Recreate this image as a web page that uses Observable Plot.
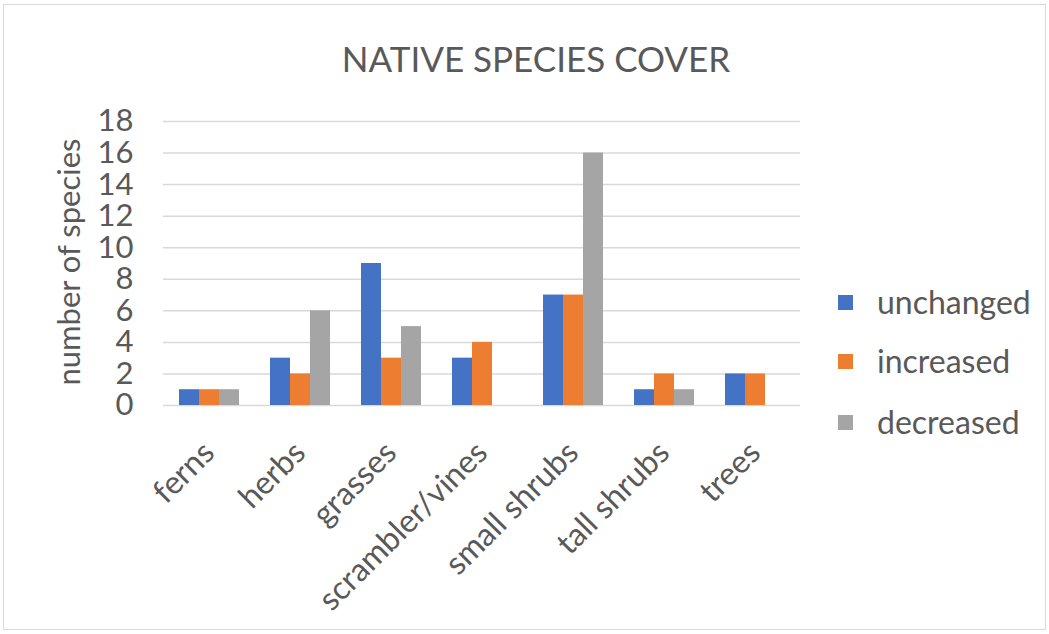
<!DOCTYPE html>
<html>
<head>
<meta charset="utf-8">
<script src="https://cdn.jsdelivr.net/npm/d3@7"></script>
<script src="https://cdn.jsdelivr.net/npm/@observablehq/plot@0.6"></script>
<style>
  html, body { margin: 0; padding: 0; background: #fff; }
  #wrap { position: relative; width: 1049px; height: 634px; font-family: Lato, "Open Sans", sans-serif; color: #595959; overflow: hidden; }
  #frame { position: absolute; left: 3px; top: 4px; width: 1041px; height: 624px; border: 1px solid #d9d9d9; }
  #title { position: absolute; left: 0; width: 1072px; top: 36px; text-align: center; font-size: 35px; line-height: 44px; }
  #chart { position: absolute; left: 0; top: 100px; }
  #ylabel { position: absolute; left: 68px; top: 262px; transform: translate(-50%, -50%) rotate(180deg); writing-mode: vertical-rl; font-size: 31px; line-height: 32px; white-space: nowrap; }
  .leg { position: absolute; left: 838px; font-size: 32px; line-height: 40px; display: flex; align-items: center; }
  .leg span.sw { display: inline-block; width: 15px; height: 15px; margin-right: 24px; }
</style>
</head>
<body>
<div id="wrap">
  <div id="frame"></div>
  <div id="title">NATIVE SPECIES COVER</div>
  <div id="chart"></div>
  <div id="ylabel">number of species</div>
  <div id="legend"></div>
</div>
<script>
const categories = ["ferns", "herbs", "grasses", "scrambler/vines", "small shrubs", "tall shrubs", "trees"];
const seriesNames = ["unchanged", "increased", "decreased"];
const unchanged = [1, 3, 9, 3, 7, 1, 2];
const increased = [1, 2, 3, 4, 7, 2, 2];
const decreased = [1, 6, 5, 0, 16, 1, 0];
const yTicks = [0, 2, 4, 6, 8, 10, 12, 14, 16, 18];
const colors = ["#4472C4", "#ED7D31", "#A5A5A5"];

const seriesValues = [unchanged, increased, decreased];
const rows = [];
categories.forEach((c, i) => {
  seriesNames.forEach((s, j) => rows.push({category: c, series: s, value: seriesValues[j][i]}));
});

const chart = Plot.plot({
  width: 1049,
  height: 534,
  marginLeft: 163,
  marginRight: 249,
  marginTop: 21,
  marginBottom: 229,
  style: {fontFamily: "Lato, 'Open Sans', sans-serif", color: "#595959", background: "transparent", overflow: "visible"},
  fx: {domain: categories, padding: 0, label: null},
  x: {domain: seriesNames, paddingInner: 0, paddingOuter: 0.775, axis: null},
  y: {domain: [0, 18], label: null},
  color: {domain: seriesNames, range: colors},
  marks: [
    Plot.ruleY(yTicks, {stroke: "#d9d9d9", strokeWidth: 1.5}),
    Plot.barY(rows, {fx: "category", x: "series", y: "value", fill: "series"}),
    Plot.axisY({ticks: yTicks, tickSize: 0, tickPadding: 30, fontSize: 31, label: null, fill: "#595959"}),
    Plot.axisFx({anchor: "bottom", tickRotate: -45, tickSize: 0, tickPadding: 42, fontSize: 32, label: null, fill: "#595959"})
  ]
});
document.getElementById("chart").appendChild(chart);

const legend = document.getElementById("legend");
const legTops = [302, 361, 422];
seriesNames.forEach((s, j) => {
  const d = document.createElement("div");
  d.className = "leg";
  d.style.top = (legTops[j] - 20) + "px";
  d.innerHTML = `<span class="sw" style="background:${colors[j]}"></span>${s}`;
  legend.appendChild(d);
});
</script>
</body>
</html>
